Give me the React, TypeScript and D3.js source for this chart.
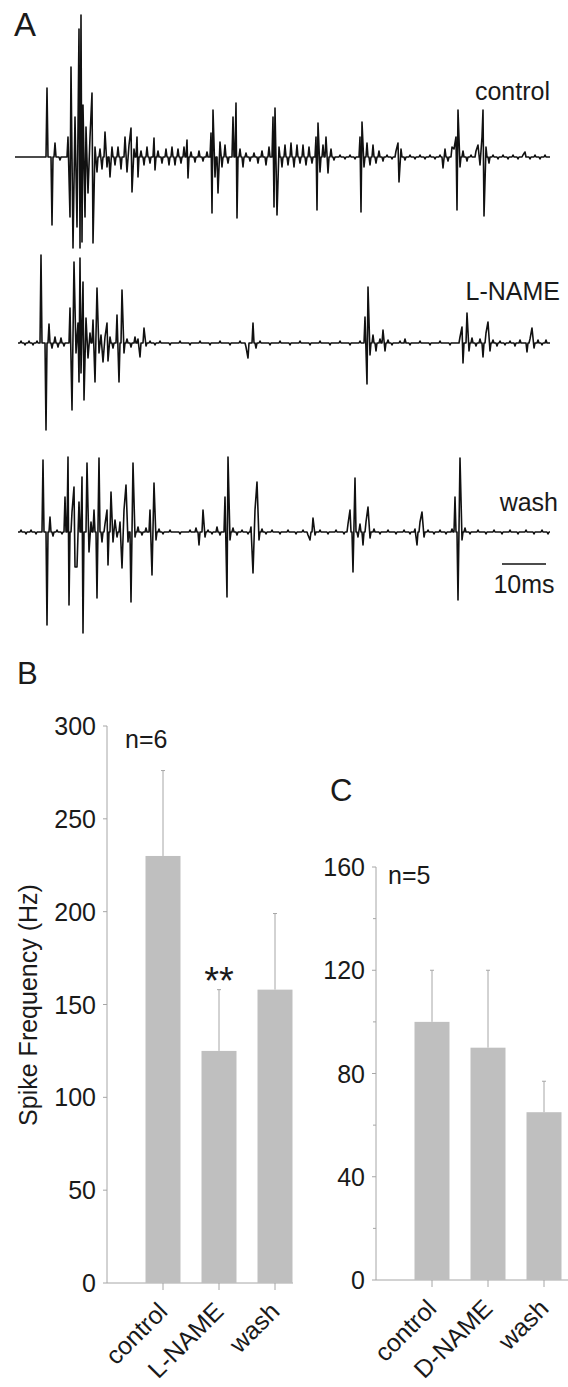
import React from "react";
import * as d3 from "d3";

// ---------- Panel A: recorded traces (sample index, amplitude) ----------
const traceNames = ["control", "L-NAME", "wash"];

const controlSpikes: [number, number][] = [
  [32, 69], [37, -68], [40, 14], [45, -3],
  [53, 20], [55, -60], [56, 90], [58, -91], [60, 40], [62, -70], [64, 128], [65, -91], [66, 142], [67, -85], [68, 52], [70, -60], [71, 30], [73, -36], [75, 20], [77, 64], [78, -86], [80, 10], [82, -15],
  [85, 8], [87, -12], [90, 25], [92, -10], [95, -20], [97, 10], [100, -8], [103, 10], [106, -12], [110, 20], [112, -15], [114, 12], [116, 29], [117, -35], [119, 8], [122, 20], [123, -20], [126, 6], [129, -8], [132, 10], [135, -6], [139, 19], [140, -13], [143, 6], [147, -6], [151, 8], [154, -8], [157, 10], [160, -8], [163, 8], [166, -6], [169, 10], [172, 17], [173, -21], [176, 5], [180, -5], [184, 6], [188, -4], [192, 5],
  [196, 24], [197, -56], [198, 47], [200, -20], [203, -36], [205, 15], [207, -10], [210, 12], [213, -6], [218, 40], [221, 54], [222, -61], [225, 8], [228, -10], [231, 4], [235, -4], [239, 4], [243, -6], [247, 6], [251, -8], [254, 10],
  [258, 40], [259, -50], [260, 49], [262, -58], [264, 10], [267, -10], [270, 12], [273, -8], [276, 14], [279, -10], [282, 12], [285, -6], [288, 12], [291, -8], [294, 10], [297, -6],
  [301, 20], [302, -53], [303, 34], [305, -15], [308, 12], [311, 20], [313, -16], [316, 8], [319, -3], [325, 2], [330, -2], [335, 2], [340, -2],
  [345, 20], [346, -55], [347, 35], [349, -10], [352, 14], [355, -8], [358, 12], [361, -6], [364, 6], [368, -4], [372, 2], [377, -2],
  [381, 6], [383, 14], [384, -25], [386, 8], [390, -3], [395, 2], [400, -2], [405, 2], [410, -2], [415, 2], [420, -2], [425, 2],
  [428, -11], [430, 8], [433, -4], [437, 10], [439, 8], [441, 20], [442, -53], [443, 47], [445, -10], [448, 6], [452, -4], [456, 2],
  [461, 6], [463, 12], [465, -8], [467, 20], [468, 47], [469, -59], [471, 10], [474, -6], [478, 2], [483, -2], [488, 2], [493, -2], [498, 2], [503, -2], [508, 2], [510, 5], [515, -2], [520, 2], [525, -2], [530, 2],
];

const lnameSpikes: [number, number][] = [
  [6, 2], [10, -2], [14, 2], [18, -2], [22, 2],
  [26, 88], [31, -87], [34, 19], [37, -5], [40, 6], [43, -4], [46, 5], [49, -3],
  [55, 35], [57, -67], [59, 81], [61, -10], [63, 20], [64, -39], [65, 85], [66, -30], [68, 61], [69, -57], [71, 25], [73, -15], [75, 10], [78, 23], [80, -39], [82, 55], [84, -10], [86, 8], [88, -19], [90, 6], [92, 20], [93, -18], [95, 6], [98, -5], [102, 28], [104, -39], [107, 53], [109, -10], [112, 4], [116, -4], [120, 6], [123, 4], [125, -14], [129, 15], [131, -3],
  [135, 2], [140, -2], [145, 2], [155, -2], [165, 2], [175, -2], [185, 2], [195, -2], [205, 2], [215, -2], [225, 2], [231, -4], [233, -15], [238, 20], [241, -5], [245, 2], [255, -2], [265, 2], [275, -2], [285, 2], [295, -2], [305, 2], [315, -2], [325, 2], [335, -2], [345, 2],
  [350, 26], [352, -41], [353, 56], [355, -12], [358, 8], [361, -8], [365, 4], [368, 13], [370, -8], [373, 3], [377, -2], [385, 2], [390, 4], [395, -2], [405, 2], [415, -2], [425, 2], [435, -2],
  [445, 6], [447, 16], [448, -20], [452, 30], [454, -8], [457, 5], [461, -3], [465, 4], [468, -14], [471, 10], [473, 21], [475, -8], [478, 3], [482, -3], [485, 2], [490, -2], [495, 2], [500, -3], [505, 3], [512, -9], [515, 4], [517, 15], [519, -5], [523, 3], [527, -2], [531, 3],
];

const washSpikes: [number, number][] = [
  [6, 2], [11, -2], [16, 2], [21, -2],
  [28, 72], [32, -93], [35, 15], [38, -4], [42, 2], [47, -2],
  [50, 35], [53, 75], [54, -73], [57, 20], [59, 45], [60, -35], [62, -35], [64, 30], [67, 55], [68, -101], [72, 69], [74, -20], [76, 10], [79, 22], [82, -66], [84, 74], [87, -10], [90, 8], [92, 22], [93, -33], [96, 40], [98, -10], [100, 12], [102, -5], [105, 10], [107, -36], [109, 22], [111, 47], [113, -10], [116, -70], [118, 69], [120, -5], [123, 5], [127, -3], [131, 4], [135, 22], [137, -43], [139, 49], [141, -8], [144, 3], [148, -2], [155, 2], [165, -2], [175, 2],
  [181, 4], [184, -13], [188, 22], [190, -5], [193, 2], [197, -2], [202, 5], [205, -3], [210, 35], [212, -65], [213, 75], [215, -8], [218, 4], [222, -3], [227, 2], [233, -2], [236, 5], [238, -41], [240, 22], [242, 50], [244, -8], [247, 3], [251, -2], [257, 2], [265, -2], [273, 2], [281, -2], [288, 2], [293, -3], [295, -8], [298, 14], [300, -3], [305, 2], [313, -2], [321, 2], [329, -2],
  [333, 8], [335, 22], [338, -40], [340, 54], [343, -5], [345, 8], [348, -13], [351, 10], [353, 25], [355, -6], [359, 3], [365, -2], [373, 2], [381, -2], [389, 2], [395, -2], [400, 3], [402, -13], [405, 10], [407, 20], [409, -5], [413, 2], [419, -2], [425, 2], [431, -2], [437, 3],
  [440, 35], [443, -68], [445, 74], [447, -8], [450, 4], [455, -2], [463, 2], [471, -2], [479, 2], [487, -2], [495, 2], [503, -2], [511, 2], [519, -2], [527, 2], [533, -2],
];

const traceSpikes = [controlSpikes, lnameSpikes, washSpikes];
const traceStarts = [0, 3, 3];
const scaleBarSamples = 44; // 10 ms
const scaleBarLabel = "10ms";

// ---------- Panel B ----------
const bCategories = ["control", "L-NAME", "wash"];
const bMeans = [230, 125, 158];
const bErrors = [46, 33, 41];
const bTicks = [0, 50, 100, 150, 200, 250, 300];
const bN = "n=6";
const bSignif = "**";
const bYTitle = "Spike Frequency (Hz)";

// ---------- Panel C ----------
const cCategories = ["control", "D-NAME", "wash"];
const cMeans = [100, 90, 65];
const cErrors = [20, 30, 12];
const cTicks = [0, 40, 80, 120, 160];
const cMinorTicks = [20, 60, 100, 140];
const cN = "n=5";

const FONT = "'Liberation Sans', Arial, Helvetica, sans-serif";
const TEXT = "#1a1a1a";
const AXIS = "#a6a6a6";
const BAR = "#bfbfbf";

function tracePath(events: [number, number][], start: number, x: any, y: any) {
  const pts: [number, number][] = [[start, 0]];
  events.forEach((e, i) => {
    const prev = events[i - 1];
    const next = events[i + 1];
    if (!prev || e[0] - prev[0] > 2) pts.push([e[0] - 1, 0]);
    pts.push(e);
    if (!next || next[0] - e[0] > 2) pts.push([e[0] + 1, 0]);
  });
  pts.push([535, 0]);
  return d3.line<[number, number]>().x((d) => x(d[0])).y((d) => y(d[1]))(pts) || "";
}

function BarPanel(props: {
  cats: string[]; means: number[]; errs: number[]; ticks: number[]; minor: number[];
  yMax: number; yTop: number; yBottom: number; axisX: number; axisEnd: number;
  centers: [number, number];
}) {
  const { cats, means, errs, ticks, minor, yMax, yTop, yBottom, axisX, axisEnd, centers } = props;
  const y = d3.scaleLinear().domain([0, yMax]).range([yBottom, yTop]);
  const step = centers[1] - centers[0];
  const x = d3.scalePoint<string>().domain(cats).range([centers[0], centers[0] + step * (cats.length - 1)]);
  const bw = 35;
  return (
    <g>
      <line x1={axisX} x2={axisX} y1={y(yMax)} y2={y(0)} stroke={AXIS} strokeWidth={1} />
      <line x1={axisX} x2={axisEnd} y1={y(0)} y2={y(0)} stroke={AXIS} strokeWidth={1} />
      {ticks.map((t) => (
        <g key={"t" + t}>
          <line x1={axisX - 4} x2={axisX} y1={y(t)} y2={y(t)} stroke={AXIS} />
          <text x={axisX - 11} y={y(t)} dy="0.36em" textAnchor="end" fontSize={25} fill={TEXT} fontFamily={FONT}>{t}</text>
        </g>
      ))}
      {minor.map((t) => (
        <line key={"m" + t} x1={axisX - 3} x2={axisX} y1={y(t)} y2={y(t)} stroke={AXIS} />
      ))}
      {cats.map((c, i) => {
        const cx = x(c)!;
        return (
          <g key={c}>
            <line x1={cx} x2={cx} y1={y(means[i])} y2={y(means[i] + errs[i])} stroke={AXIS} strokeWidth={1} />
            <line x1={cx - 2} x2={cx + 2} y1={y(means[i] + errs[i])} y2={y(means[i] + errs[i])} stroke={AXIS} strokeWidth={1} />
            <rect x={cx - bw / 2} y={y(means[i])} width={bw} height={y(0) - y(means[i])} fill={BAR} />
            <line x1={cx} x2={cx} y1={y(0)} y2={y(0) + 7} stroke={AXIS} />
            <text transform={`translate(${cx + 6},${y(0) + 30}) rotate(-45)`} textAnchor="end" fontSize={25} fill={TEXT} fontFamily={FONT}>{c}</text>
          </g>
        );
      })}
    </g>
  );
}

export default function App() {
  const W = 568, H = 1387;
  const x = d3.scaleLinear().domain([0, 535]).range([15, 550]);
  const baselines = [157, 343, 532];
  const labelPos: [number, number][] = [[550, 100], [560, 300], [558, 511]];
  const bx = d3.scalePoint<string>().domain(bCategories).range([163, 275]);
  const bY = d3.scaleLinear().domain([0, 300]).range([1283, 726]);
  return (
    <svg width={W} height={H} style={{ position: "absolute", left: 0, top: 0, background: "#fff" }} fontFamily={FONT}>
      <rect width={W} height={H} fill="#fff" />
      {/* Panel A */}
      <text x={14} y={36} fontSize={33} fill={TEXT}>A</text>
      {traceSpikes.map((ev, i) => {
        const y = d3.scaleLinear().domain([-150, 150]).range([baselines[i] + 150, baselines[i] - 150]);
        return (
          <g key={traceNames[i]}>
            <path d={tracePath(ev, traceStarts[i], x, y)} fill="none" stroke="#111" strokeWidth={1.6} strokeLinejoin="round" />
            <text x={labelPos[i][0]} y={labelPos[i][1]} textAnchor="end" fontSize={25} fill={TEXT}>{traceNames[i]}</text>
          </g>
        );
      })}
      <line x1={x(487)} x2={x(487 + scaleBarSamples)} y1={564} y2={564} stroke="#111" strokeWidth={1.5} />
      <text x={x(487 + scaleBarSamples / 2)} y={593} textAnchor="middle" fontSize={25} fill={TEXT}>{scaleBarLabel}</text>

      {/* Panel B */}
      <text x={17} y={684} fontSize={31} fill={TEXT}>B</text>
      <BarPanel cats={bCategories} means={bMeans} errs={bErrors} ticks={bTicks} minor={[]} yMax={300} yTop={726} yBottom={1283} axisX={107} axisEnd={293} centers={[163, 219]} />
      <text x={125} y={748} fontSize={25} fill={TEXT}>{bN}</text>
      <text x={bx("L-NAME")!} y={bY(bMeans[1] + bErrors[1]) + 4} textAnchor="middle" fontSize={38} fill={TEXT}>{bSignif}</text>
      <text transform={`translate(37,1005) rotate(-90)`} textAnchor="middle" fontSize={25} fill={TEXT}>{bYTitle}</text>

      {/* Panel C */}
      <text x={330} y={801} fontSize={31} fill={TEXT}>C</text>
      <BarPanel cats={cCategories} means={cMeans} errs={cErrors} ticks={cTicks} minor={cMinorTicks} yMax={160} yTop={867} yBottom={1280} axisX={376} axisEnd={568} centers={[432, 488]} />
      <text x={388} y={884} fontSize={25} fill={TEXT}>{cN}</text>
    </svg>
  );
}
